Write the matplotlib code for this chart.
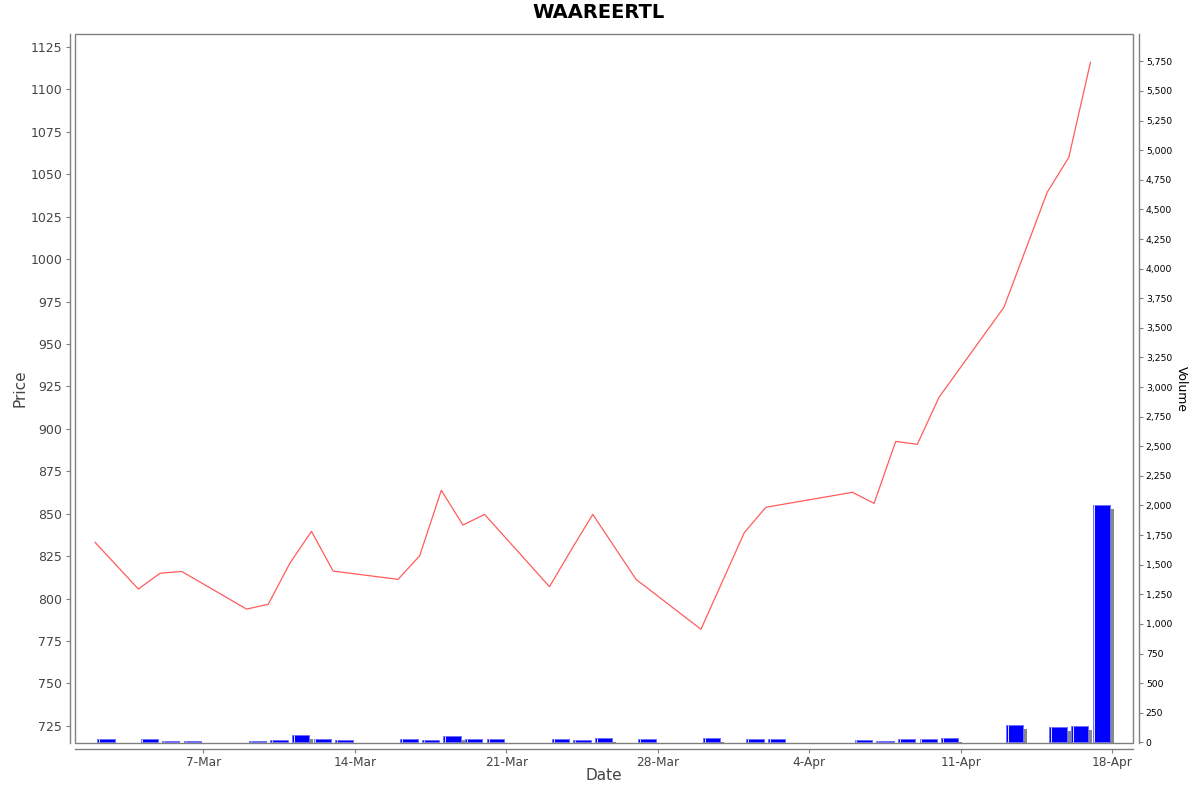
import datetime as dt
import matplotlib
matplotlib.use('Agg')
import matplotlib.pyplot as plt
import matplotlib.dates as mdates
import matplotlib.transforms as mtransforms
from matplotlib.patches import Rectangle
from matplotlib.ticker import MultipleLocator, FuncFormatter

# daily data
dates = ['2026-03-02', '2026-03-04', '2026-03-05', '2026-03-06',
         '2026-03-09', '2026-03-10', '2026-03-11', '2026-03-12', '2026-03-13',
         '2026-03-16', '2026-03-17', '2026-03-18', '2026-03-19', '2026-03-20',
         '2026-03-23', '2026-03-24', '2026-03-25', '2026-03-27',
         '2026-03-30', '2026-04-01', '2026-04-02',
         '2026-04-06', '2026-04-07', '2026-04-08', '2026-04-09', '2026-04-10',
         '2026-04-13', '2026-04-15', '2026-04-16', '2026-04-17']
price = [833.1, 805.6, 814.9, 816.0,
         793.8, 796.6, 820.8, 839.6, 816.2,
         811.3, 825.2, 863.8, 843.3, 849.6,
         807.0, 828.6, 849.6, 811.3,
         781.9, 838.8, 853.8,
         862.6, 856.1, 892.6, 890.9, 918.6,
         971.6, 1039.4, 1060.0, 1116.0]
volume = [30, 25, 14, 11,
          14, 20, 59, 28, 17,
          25, 22, 53, 28, 25,
          25, 20, 37, 28,
          34, 28, 31,
          22, 14, 28, 25, 37,
          150, 127, 138, 2000]

x = mdates.date2num([dt.datetime.strptime(d, '%Y-%m-%d') for d in dates])

W, H = 1200, 792
fig = plt.figure(figsize=(W / 100, H / 100), dpi=100)
ax = fig.add_axes([75.3 / W, 1 - 743.3 / H, (1133.3 - 75.3) / W, (743.3 - 34) / H])
ax2 = ax.twinx()
ax.set_zorder(ax2.get_zorder() + 1)
ax.patch.set_visible(False)

grey = '#808080'
txt = '#444444'

# volume bars with a small drop shadow
shadow = mtransforms.ScaledTranslation(4 / 100, -4 / 100, fig.dpi_scale_trans)
sbars = ax2.bar(x + 0.5, volume, width=0.8, color='#888888', linewidth=0)
for p in sbars:
    p.set_transform(ax2.transData + shadow)
ax2.bar(x + 0.5, volume, width=0.8, color='#0000ff', edgecolor='#6f6fff', linewidth=0.7)
ax2.vlines(x + 0.1 + 0.085, 0, volume, color='#dcdcff', linewidth=0.75)

# price line
ax.plot(x, price, color='#ff5c5c', linewidth=0.9)

x0 = mdates.date2num(dt.datetime(2026, 3, 7)) - 5.915
x1 = mdates.date2num(dt.datetime(2026, 3, 7)) + 42.98
ax.set_xlim(x0, x1)
ax.set_ylim(714.7, 1132.7)
ax2.set_ylim(-8, 5981)

ax.xaxis.set_major_locator(mdates.DayLocator(bymonthday=[4, 11, 18, 25, 7, 14, 21, 28]))
ticks = mdates.date2num([dt.datetime(2026, 3, 7) + dt.timedelta(days=7 * i) for i in range(7)])
ax.set_xticks(ticks)
ax.xaxis.set_major_formatter(FuncFormatter(
    lambda v, p: '%d-%s' % (mdates.num2date(v).day, mdates.num2date(v).strftime('%b'))))
ax.yaxis.set_major_locator(MultipleLocator(25))
ax2.yaxis.set_major_locator(MultipleLocator(250))
ax2.yaxis.set_major_formatter(FuncFormatter(lambda v, p: '{:,}'.format(int(round(v)))))
ax.set_yticks(range(725, 1126, 25))
ax2.set_yticks(range(0, 5751, 250))

for s in ['top', 'right']:
    ax.spines[s].set_visible(False)
for s in ['top', 'left', 'bottom']:
    ax2.spines[s].set_visible(False)
ax.spines['left'].set_position(('outward', 4))
ax.spines['bottom'].set_position(('outward', 4))
ax2.spines['right'].set_position(('outward', 4))
for sp in [ax.spines['left'], ax.spines['bottom'], ax2.spines['right']]:
    sp.set_color(grey)
    sp.set_linewidth(1)

ax.add_patch(Rectangle((0, 0), 1, 1, transform=ax.transAxes, fill=False,
                       edgecolor=grey, linewidth=1, clip_on=False, zorder=5))

ax.tick_params(axis='y', direction='out', length=3, width=0.8, color=grey,
               labelcolor=txt, labelsize=9, pad=2.5)
ax.tick_params(axis='x', direction='out', length=3, width=0.8, color=grey,
               labelcolor=txt, labelsize=8.7, pad=2)
ax2.tick_params(axis='y', direction='out', length=3, width=0.8, color=grey,
                labelcolor='black', labelsize=6.7, pad=2)

ax.set_ylabel('Price', fontsize=11, color=txt)
ax.yaxis.label.set_va('center')
ax.yaxis.set_label_coords((20 - 75.3) / 1058, 0.5)
ax.set_xlabel('Date', fontsize=11, color=txt)
ax.xaxis.label.set_va('center')
ax.xaxis.set_label_coords((604 - 75.3) / 1058, (743.3 - 776) / 709.3)
ax2.set_ylabel('Volume', fontsize=8.9, color='black', rotation=270)
ax2.yaxis.label.set_va('center')
ax2.yaxis.set_label_coords((1181 - 75.3) / 1058, 0.5)

fig.text(599 / W, 1 - 12 / H, 'WAAREERTL', ha='center', va='center',
         fontsize=14, fontweight='bold')

fig.savefig('out.png', dpi=100)
